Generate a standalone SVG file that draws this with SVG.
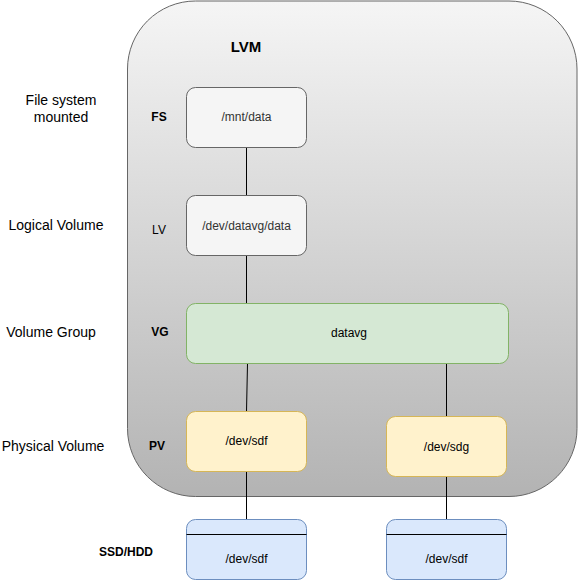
<svg xmlns="http://www.w3.org/2000/svg" width="578" height="580" viewBox="0 0 578 580">
<defs>
<linearGradient id="gc" x1="0" y1="0" x2="0" y2="1">
<stop offset="0" stop-color="#f5f5f5"/>
<stop offset="1" stop-color="#b3b3b3"/>
</linearGradient>
<style>
text{font-family:"Liberation Sans",Arial,sans-serif;font-size:12px;fill:#000;text-anchor:middle;dominant-baseline:central}
.side{font-size:14px}
.b{font-weight:bold}
.gray{fill:url(#gc);stroke:#666666;stroke-width:1}
.fs{fill:#f5f5f5;stroke:#666666;stroke-width:1}
.vg{fill:#d5e8d4;stroke:#82b366;stroke-width:1}
.pv{fill:#fff2cc;stroke:#d6b656;stroke-width:1}
.ssd{fill:#dae8fc;stroke:#6c8ebf;stroke-width:1}
.sep{stroke:#000;stroke-width:1}
.dk{fill:#333333}
#connectors line{stroke:#000;stroke-width:1}
</style>
</defs>
<rect width="578" height="580" fill="#ffffff"/>
<g id="lvm">
<rect class="gray" x="127.5" y="1" width="449.5" height="495.5" rx="68" ry="68"/>
<text class="b" x="246" y="46" style="font-size:15px">LVM</text>
</g>
<g id="labels">
<text class="side" x="61" y="100">File system</text>
<text class="side" x="61" y="117">mounted</text>
<text class="side" x="56" y="225">Logical Volume</text>
<text class="side" x="51" y="332">Volume Group</text>
<text class="side" x="53" y="446">Physical Volume</text>
<text class="b" x="126" y="552">SSD/HDD</text>
<text class="b" x="159" y="117">FS</text>
<text x="159" y="230">LV</text>
<text class="b" x="160" y="332">VG</text>
<text class="b" x="157" y="446">PV</text>
</g>
<g id="connectors">
<line x1="246.5" y1="147.5" x2="246.5" y2="195.5"/>
<line x1="246.5" y1="255.5" x2="246.5" y2="303.5"/>
<line x1="247.5" y1="363.5" x2="246.5" y2="411.5"/>
<line x1="446.5" y1="363.5" x2="446.5" y2="416.5"/>
<line x1="246.5" y1="471.5" x2="246.5" y2="519.5"/>
<line x1="446.5" y1="476.5" x2="446.5" y2="519.5"/>
</g>
<g id="fs">
<rect class="fs" x="186.5" y="87.5" width="120" height="60" rx="9" ry="9"/>
<text class="dk" x="246.5" y="117">/mnt/data</text>
</g>
<g id="lv">
<rect class="fs" x="186.5" y="195.5" width="120" height="60" rx="9" ry="9"/>
<text class="dk" x="246.5" y="226">/dev/datavg/data</text>
</g>
<g id="vg">
<rect class="vg" x="186.5" y="303.5" width="322" height="60" rx="9" ry="9"/>
<text x="349" y="333">datavg</text>
</g>
<g id="pv-sdf">
<rect class="pv" x="186.5" y="411.5" width="120" height="60" rx="9" ry="9"/>
<text x="246.5" y="441">/dev/sdf</text>
</g>
<g id="pv-sdg">
<rect class="pv" x="386.5" y="416.5" width="120" height="60" rx="9" ry="9"/>
<text x="446.5" y="446.5">/dev/sdg</text>
</g>
<g id="ssd-sdf">
<rect class="ssd" x="186.5" y="519.5" width="120" height="60" rx="9" ry="9"/>
<line class="sep" x1="186.5" y1="534.5" x2="306.5" y2="534.5"/>
<text x="246.5" y="559">/dev/sdf</text>
</g>
<g id="ssd-sdg">
<rect class="ssd" x="386.5" y="519.5" width="120" height="60" rx="9" ry="9"/>
<line class="sep" x1="386.5" y1="534.5" x2="506.5" y2="534.5"/>
<text x="446.5" y="559">/dev/sdf</text>
</g>
</svg>
